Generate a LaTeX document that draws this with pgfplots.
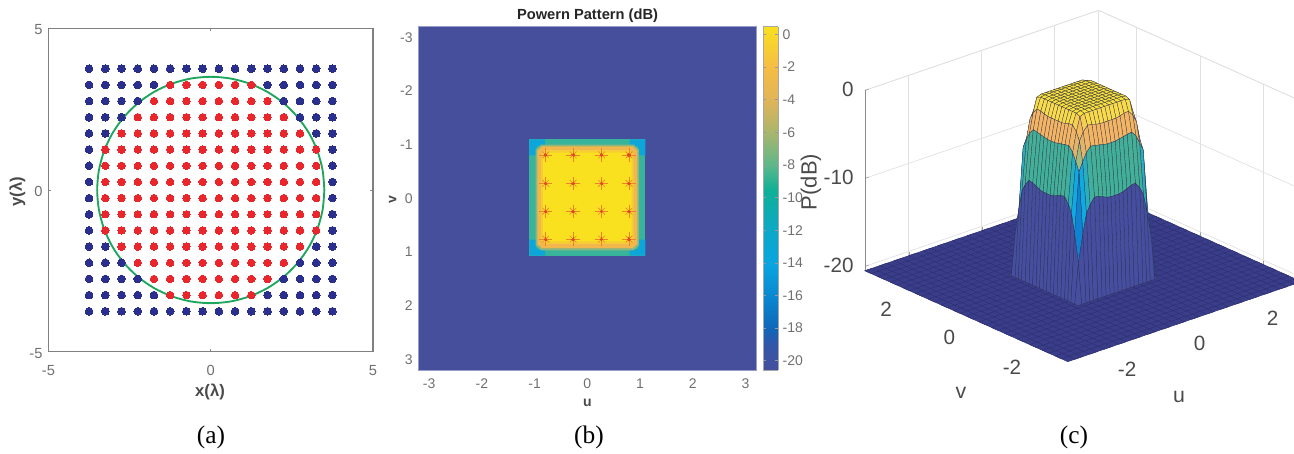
\documentclass[border=0pt]{standalone}
\usepackage{pgfplots}
\pgfplotsset{compat=1.18}
\usepackage{fontspec}
\setmainfont{Liberation Sans}
\newfontfamily\capfont{Liberation Serif}
\definecolor{tickg}{HTML}{707070}
\definecolor{labg}{HTML}{4A4A4A}
\definecolor{bluept}{HTML}{2A2E8C}
\definecolor{redpt}{HTML}{E8262C}
\definecolor{greenc}{HTML}{1FA65E}
\definecolor{hbg}{HTML}{464F9C}
\definecolor{hteal}{HTML}{38B49B}
\definecolor{hcyan}{HTML}{0CA6D8}
\definecolor{holive}{HTML}{8DB67E}
\definecolor{horange}{HTML}{F1B64C}
\definecolor{hmid}{HTML}{F6CD35}
\definecolor{hyellow}{HTML}{F9E11F}
\definecolor{star}{HTML}{EE8228}
\definecolor{starc}{HTML}{E04A20}
\definecolor{floorc}{HTML}{3A3D88}
\definecolor{floorl}{HTML}{2E3076}
\definecolor{facet}{HTML}{303050}
\pgfplotsset{
 colormap={cb}{rgb255(0pt)=(69,79,157); rgb255(1.5pt)=(52,86,168); rgb255(2.5pt)=(17,102,184); rgb255(4.5pt)=(10,136,208); rgb255(6.5pt)=(9,165,224); rgb255(8.5pt)=(12,168,200); rgb255(11pt)=(14,176,150); rgb255(12.5pt)=(92,183,138); rgb255(14.5pt)=(169,182,109); rgb255(16.5pt)=(224,180,88); rgb255(18.5pt)=(246,189,69); rgb255(21pt)=(249,224,31)},
 colormap={cc}{rgb255(0pt)=(70,78,160); rgb255(3pt)=(40,100,190); rgb255(4.5pt)=(15,130,210); rgb255(7.6pt)=(15,170,225); rgb255(9.8pt)=(40,175,190); rgb255(10.8pt)=(64,176,152); rgb255(12.5pt)=(75,178,150); rgb255(14.5pt)=(165,185,125); rgb255(15.5pt)=(225,180,105); rgb255(16.6pt)=(243,180,100); rgb255(18pt)=(245,185,90); rgb255(18.9pt)=(248,218,75); rgb255(20.5pt)=(249,226,55); rgb255(21pt)=(249,226,55)},
}
\begin{document}
\begin{tikzpicture}
\path[use as bounding box] (0,0) rectangle (970.5pt,339.75pt);

% (a)
\begin{axis}[at={(36.375pt,75.975pt)},anchor=south west,scale only axis,width=243.4pt,height=242.55pt,
 xmin=-5,xmax=5,ymin=-5,ymax=5,xtick={-5,0,5},ytick={-5,0,5},xticklabels={-5,0,5},yticklabels={-5,0,5},
 axis line style={draw=black!50,line width=0.8pt},tick style={draw=black!45,line width=0.4pt},tick align=inside,major tick length=2pt,
 ticklabel style={text=tickg,font=\fontsize{11}{11}\selectfont},
 xticklabel style={yshift=-6.5pt},yticklabel style={xshift=-1pt,yshift=-1pt},
 clip=false]
\addplot[only marks,color=bluept,mark=*,mark size=2.9pt,mark options={draw=bluept,fill=bluept,line width=0pt}] coordinates {
(-3.75,3.75)(-3.25,3.75)(-2.75,3.75)(-2.25,3.75)(-1.75,3.75)(-1.25,3.75)(-0.75,3.75)(-0.25,3.75)(0.25,3.75)(0.75,3.75)(1.25,3.75)(1.75,3.75)(2.25,3.75)(2.75,3.75)(3.25,3.75)(3.75,3.75)
(-3.75,3.25)(-3.25,3.25)(-2.75,3.25)(-2.25,3.25)(-1.75,3.25)(1.75,3.25)(2.25,3.25)(2.75,3.25)(3.25,3.25)(3.75,3.25)
(-3.75,2.75)(-3.25,2.75)(-2.75,2.75)(-2.25,2.75)(2.25,2.75)(2.75,2.75)(3.25,2.75)(3.75,2.75)
(-3.75,2.25)(-3.25,2.25)(-2.75,2.25)(2.75,2.25)(3.25,2.25)(3.75,2.25)
(-3.75,1.75)(-3.25,1.75)(3.25,1.75)(3.75,1.75)
(-3.75,1.25)(3.75,1.25)(-3.75,0.75)(3.75,0.75)(-3.75,0.25)(3.75,0.25)(-3.75,-0.25)(3.75,-0.25)(-3.75,-0.75)(3.75,-0.75)(-3.75,-1.25)(3.75,-1.25)
(-3.75,-1.75)(-3.25,-1.75)(3.25,-1.75)(3.75,-1.75)
(-3.75,-2.25)(-3.25,-2.25)(-2.75,-2.25)(2.75,-2.25)(3.25,-2.25)(3.75,-2.25)
(-3.75,-2.75)(-3.25,-2.75)(-2.75,-2.75)(-2.25,-2.75)(2.25,-2.75)(2.75,-2.75)(3.25,-2.75)(3.75,-2.75)
(-3.75,-3.25)(-3.25,-3.25)(-2.75,-3.25)(-2.25,-3.25)(-1.75,-3.25)(1.75,-3.25)(2.25,-3.25)(2.75,-3.25)(3.25,-3.25)(3.75,-3.25)
(-3.75,-3.75)(-3.25,-3.75)(-2.75,-3.75)(-2.25,-3.75)(-1.75,-3.75)(-1.25,-3.75)(-0.75,-3.75)(-0.25,-3.75)(0.25,-3.75)(0.75,-3.75)(1.25,-3.75)(1.75,-3.75)(2.25,-3.75)(2.75,-3.75)(3.25,-3.75)(3.75,-3.75)
};
\addplot[only marks,color=redpt,mark=*,mark size=2.8pt,mark options={draw=redpt,fill=redpt,line width=0pt}] coordinates {
(-1.25,3.25)(-0.75,3.25)(-0.25,3.25)(0.25,3.25)(0.75,3.25)(1.25,3.25)
(-1.75,2.75)(-1.25,2.75)(-0.75,2.75)(-0.25,2.75)(0.25,2.75)(0.75,2.75)(1.25,2.75)(1.75,2.75)
(-2.25,2.25)(-1.75,2.25)(-1.25,2.25)(-0.75,2.25)(-0.25,2.25)(0.25,2.25)(0.75,2.25)(1.25,2.25)(1.75,2.25)(2.25,2.25)
(-2.75,1.75)(-2.25,1.75)(-1.75,1.75)(-1.25,1.75)(-0.75,1.75)(-0.25,1.75)(0.25,1.75)(0.75,1.75)(1.25,1.75)(1.75,1.75)(2.25,1.75)(2.75,1.75)
(-3.25,1.25)(-2.75,1.25)(-2.25,1.25)(-1.75,1.25)(-1.25,1.25)(-0.75,1.25)(-0.25,1.25)(0.25,1.25)(0.75,1.25)(1.25,1.25)(1.75,1.25)(2.25,1.25)(2.75,1.25)(3.25,1.25)
(-3.25,0.75)(-2.75,0.75)(-2.25,0.75)(-1.75,0.75)(-1.25,0.75)(-0.75,0.75)(-0.25,0.75)(0.25,0.75)(0.75,0.75)(1.25,0.75)(1.75,0.75)(2.25,0.75)(2.75,0.75)(3.25,0.75)
(-3.25,0.25)(-2.75,0.25)(-2.25,0.25)(-1.75,0.25)(-1.25,0.25)(-0.75,0.25)(-0.25,0.25)(0.25,0.25)(0.75,0.25)(1.25,0.25)(1.75,0.25)(2.25,0.25)(2.75,0.25)(3.25,0.25)
(-3.25,-0.25)(-2.75,-0.25)(-2.25,-0.25)(-1.75,-0.25)(-1.25,-0.25)(-0.75,-0.25)(-0.25,-0.25)(0.25,-0.25)(0.75,-0.25)(1.25,-0.25)(1.75,-0.25)(2.25,-0.25)(2.75,-0.25)(3.25,-0.25)
(-3.25,-0.75)(-2.75,-0.75)(-2.25,-0.75)(-1.75,-0.75)(-1.25,-0.75)(-0.75,-0.75)(-0.25,-0.75)(0.25,-0.75)(0.75,-0.75)(1.25,-0.75)(1.75,-0.75)(2.25,-0.75)(2.75,-0.75)(3.25,-0.75)
(-3.25,-1.25)(-2.75,-1.25)(-2.25,-1.25)(-1.75,-1.25)(-1.25,-1.25)(-0.75,-1.25)(-0.25,-1.25)(0.25,-1.25)(0.75,-1.25)(1.25,-1.25)(1.75,-1.25)(2.25,-1.25)(2.75,-1.25)(3.25,-1.25)
(-2.75,-1.75)(-2.25,-1.75)(-1.75,-1.75)(-1.25,-1.75)(-0.75,-1.75)(-0.25,-1.75)(0.25,-1.75)(0.75,-1.75)(1.25,-1.75)(1.75,-1.75)(2.25,-1.75)(2.75,-1.75)
(-2.25,-2.25)(-1.75,-2.25)(-1.25,-2.25)(-0.75,-2.25)(-0.25,-2.25)(0.25,-2.25)(0.75,-2.25)(1.25,-2.25)(1.75,-2.25)(2.25,-2.25)
(-1.75,-2.75)(-1.25,-2.75)(-0.75,-2.75)(-0.25,-2.75)(0.25,-2.75)(0.75,-2.75)(1.25,-2.75)(1.75,-2.75)
(-1.25,-3.25)(-0.75,-3.25)(-0.25,-3.25)(0.25,-3.25)(0.75,-3.25)(1.25,-3.25)
};
\addplot[smooth,no marks,color=greenc,line width=1.4pt] coordinates {
(3.5,0)(3.447,0.608)(3.289,1.197)(3.031,1.75)(2.681,2.25)(2.25,2.681)(1.75,3.031)(1.197,3.289)(0.608,3.447)(0,3.5)
(-0.608,3.447)(-1.197,3.289)(-1.75,3.031)(-2.25,2.681)(-2.681,2.25)(-3.031,1.75)(-3.289,1.197)(-3.447,0.608)(-3.5,0)
(-3.447,-0.608)(-3.289,-1.197)(-3.031,-1.75)(-2.681,-2.25)(-2.25,-2.681)(-1.75,-3.031)(-1.197,-3.289)(-0.608,-3.447)(0,-3.5)
(0.608,-3.447)(1.197,-3.289)(1.75,-3.031)(2.25,-2.681)(2.681,-2.25)(3.031,-1.75)(3.289,-1.197)(3.447,-0.608)(3.5,0)
};
\end{axis}

% (b)
\begin{axis}[at={(314pt,62.25pt)},anchor=south west,scale only axis,width=253pt,height=257.5pt,
 xmin=-3.2,xmax=3.2,ymin=-3.2,ymax=3.2,y dir=reverse,
 xtick={-3,-2,-1,0,1,2,3},ytick={-3,-2,-1,0,1,2,3},
 xticklabels={-3,-2,-1,0,1,2,3},yticklabels={-3,-2,-1,0,1,2,3},
 axis line style={draw=hbg!55!white,line width=0.6pt},major tick length=0pt,
 ticklabel style={text=tickg,font=\fontsize{10.5}{10.5}\selectfont},
 xticklabel style={yshift=-3pt},yticklabel style={xshift=-1pt},
 axis on top]
\addplot[fill=hbg,draw=none] coordinates {(-3.2,-3.2)(3.2,-3.2)(3.2,3.2)(-3.2,3.2)} --cycle;
\addplot[fill=hteal,draw=none] coordinates {(-1.1,-1.1)(1.1,-1.1)(1.1,1.07)(-1.1,1.07)} --cycle;
\addplot[fill=hcyan,draw=none] coordinates {(-1.1,-1.1)(-0.8,-1.1)(-0.8,-0.97)(-0.96,-0.97)(-0.96,-0.8)(-1.1,-0.8)} --cycle;
\addplot[fill=hcyan,draw=none] coordinates {(1.1,-1.1)(0.8,-1.1)(0.8,-0.97)(0.96,-0.97)(0.96,-0.8)(1.1,-0.8)} --cycle;
\addplot[fill=hcyan,draw=none] coordinates {(-1.1,1.07)(-0.8,1.07)(-0.8,0.94)(-0.96,0.94)(-0.96,0.77)(-1.1,0.77)} --cycle;
\addplot[fill=hcyan,draw=none] coordinates {(1.1,1.07)(0.8,1.07)(0.8,0.94)(0.96,0.94)(0.96,0.77)(1.1,0.77)} --cycle;
\addplot[fill=holive,draw=none] coordinates {(-0.88,-1.0)(0.88,-1.0)(0.98,-0.91)(0.98,0.88)(0.88,0.97)(-0.88,0.97)(-0.98,0.88)(-0.98,-0.91)} --cycle;
\addplot[fill=horange,draw=none] coordinates {(-0.86,-0.97)(0.86,-0.97)(0.95,-0.88)(0.95,0.85)(0.86,0.93)(-0.86,0.93)(-0.95,0.85)(-0.95,-0.88)} --cycle;
\addplot[fill=hmid,draw=none] coordinates {(-0.8,-0.9)(0.8,-0.9)(0.88,-0.82)(0.88,0.78)(0.8,0.85)(-0.8,0.85)(-0.88,0.78)(-0.88,-0.82)} --cycle;
\addplot[fill=hyellow,draw=none] coordinates {(-0.78,-0.85)(0.78,-0.85)(0.84,-0.79)(0.84,0.75)(0.78,0.8)(-0.78,0.8)(-0.84,0.75)(-0.84,-0.79)} --cycle;
\addplot[only marks,color=star,mark=+,mark size=5pt,mark options={draw=star,line width=0.45pt}] coordinates {
(-0.79,-0.81)(-0.27,-0.81)(0.27,-0.81)(0.79,-0.81)(-0.79,-0.28)(-0.27,-0.28)(0.27,-0.28)(0.79,-0.28)(-0.79,0.24)(-0.27,0.24)(0.27,0.24)(0.79,0.24)(-0.79,0.76)(-0.27,0.76)(0.27,0.76)(0.79,0.76)};
\addplot[only marks,color=star,mark=x,mark size=3.6pt,mark options={draw=star,line width=0.45pt}] coordinates {
(-0.79,-0.81)(-0.27,-0.81)(0.27,-0.81)(0.79,-0.81)(-0.79,-0.28)(-0.27,-0.28)(0.27,-0.28)(0.79,-0.28)(-0.79,0.24)(-0.27,0.24)(0.27,0.24)(0.79,0.24)(-0.79,0.76)(-0.27,0.76)(0.27,0.76)(0.79,0.76)};
\addplot[only marks,color=starc,mark=*,mark size=0.9pt,mark options={draw=starc,fill=starc,line width=0pt}] coordinates {
(-0.79,-0.81)(-0.27,-0.81)(0.27,-0.81)(0.79,-0.81)(-0.79,-0.28)(-0.27,-0.28)(0.27,-0.28)(0.79,-0.28)(-0.79,0.24)(-0.27,0.24)(0.27,0.24)(0.79,0.24)(-0.79,0.76)(-0.27,0.76)(0.27,0.76)(0.79,0.76)};
\end{axis}

% colour bar
\begin{axis}[at={(572.5pt,62.25pt)},anchor=south west,scale only axis,width=11pt,height=257.5pt,
 xmin=0,xmax=1,ymin=-20.57,ymax=0.47,xtick=\empty,
 ytick={-20,-18,-16,-14,-12,-10,-8,-6,-4,-2,0},
 yticklabels={-20,-18,-16,-14,-12,-10,-8,-6,-4,-2,0},
 yticklabel pos=right,yticklabel style={anchor=west,xshift=0pt},
 ticklabel style={text=tickg,font=\fontsize{10.5}{10.5}\selectfont},
 axis line style={draw=black!35,line width=0.4pt},major tick length=2pt,tick style={draw=black!40,line width=0.3pt},
 view={0}{90},colormap name=cb,point meta min=-20.5,point meta max=0.5,axis on top]
\addplot3[surf,shader=interp,point meta=y,mesh/rows=2] coordinates {(0,-20.57,0)(1,-20.57,0)

(0,0.47,0)(1,0.47,0)};
\end{axis}

% (c)
\begin{axis}[at={(812.4pt,267.9pt)},anchor=origin,
 x={(27.375pt,9.375pt)},y={(-23.775pt,10.65pt)},z={(0pt,6.6pt)},
 xmin=-3.2,xmax=3.2,ymin=-3.2,ymax=3.2,zmin=-20.5,zmax=0,
 xtick={-2,0,2},ytick={-2,0,2},ztick={-20,-10,0},
 xticklabels={-2,0,2},yticklabels={-2,0,2},zticklabels={-20,-10,0},
 grid=major,major grid style={draw=black!12,line width=0.5pt},
 axis line style={draw=black!12,line width=0.5pt},
 tickpos=left,
 tick style={draw=black!40,line width=0.4pt},major tick length=3pt,
 ticklabel style={text=labg,font=\fontsize{15.5}{15.5}\selectfont},
 xticklabel style={xshift=5pt,yshift=-6.5pt},yticklabel style={xshift=-6pt,yshift=-6.5pt},zticklabel style={xshift=-5pt},
 colormap name=cc,point meta min=-20.5,point meta max=0.5,clip=false]
\addplot3[no marks,color=black!45,line width=0.7pt] coordinates {(-3.2,3.2,-20.5)(-3.2,3.2,0)};
\addplot3[fill=floorc,draw=none] coordinates {(-3.2,-3.2,-20.5)(3.2,-3.2,-20.5)(3.2,3.2,-20.5)(-3.2,3.2,-20.5)} --cycle;
\addplot3[no marks,color=floorl,line width=0.35pt] coordinates {
(-3.2,-3.2,-20.5)(3.2,-3.2,-20.5)(3.2,-3,-20.5)(-3.2,-3,-20.5)(-3.2,-2.8,-20.5)(3.2,-2.8,-20.5)(3.2,-2.6,-20.5)(-3.2,-2.6,-20.5)(-3.2,-2.4,-20.5)(3.2,-2.4,-20.5)(3.2,-2.2,-20.5)(-3.2,-2.2,-20.5)(-3.2,-2,-20.5)(3.2,-2,-20.5)(3.2,-1.8,-20.5)(-3.2,-1.8,-20.5)(-3.2,-1.6,-20.5)(3.2,-1.6,-20.5)(3.2,-1.4,-20.5)(-3.2,-1.4,-20.5)(-3.2,-1.2,-20.5)(3.2,-1.2,-20.5)(3.2,-1,-20.5)(-3.2,-1,-20.5)(-3.2,-0.8,-20.5)(3.2,-0.8,-20.5)(3.2,-0.6,-20.5)(-3.2,-0.6,-20.5)(-3.2,-0.4,-20.5)(3.2,-0.4,-20.5)(3.2,-0.2,-20.5)(-3.2,-0.2,-20.5)(-3.2,0,-20.5)(3.2,0,-20.5)(3.2,0.2,-20.5)(-3.2,0.2,-20.5)(-3.2,0.4,-20.5)(3.2,0.4,-20.5)(3.2,0.6,-20.5)(-3.2,0.6,-20.5)(-3.2,0.8,-20.5)(3.2,0.8,-20.5)(3.2,1,-20.5)(-3.2,1,-20.5)(-3.2,1.2,-20.5)(3.2,1.2,-20.5)(3.2,1.4,-20.5)(-3.2,1.4,-20.5)(-3.2,1.6,-20.5)(3.2,1.6,-20.5)(3.2,1.8,-20.5)(-3.2,1.8,-20.5)(-3.2,2,-20.5)(3.2,2,-20.5)(3.2,2.2,-20.5)(-3.2,2.2,-20.5)(-3.2,2.4,-20.5)(3.2,2.4,-20.5)(3.2,2.6,-20.5)(-3.2,2.6,-20.5)(-3.2,2.8,-20.5)(3.2,2.8,-20.5)(3.2,3,-20.5)(-3.2,3,-20.5)(-3.2,3.2,-20.5)(3.2,3.2,-20.5)};
\addplot3[no marks,color=floorl,line width=0.35pt] coordinates {
(-3.2,-3.2,-20.5)(-3.2,3.2,-20.5)(-3,3.2,-20.5)(-3,-3.2,-20.5)(-2.8,-3.2,-20.5)(-2.8,3.2,-20.5)(-2.6,3.2,-20.5)(-2.6,-3.2,-20.5)(-2.4,-3.2,-20.5)(-2.4,3.2,-20.5)(-2.2,3.2,-20.5)(-2.2,-3.2,-20.5)(-2,-3.2,-20.5)(-2,3.2,-20.5)(-1.8,3.2,-20.5)(-1.8,-3.2,-20.5)(-1.6,-3.2,-20.5)(-1.6,3.2,-20.5)(-1.4,3.2,-20.5)(-1.4,-3.2,-20.5)(-1.2,-3.2,-20.5)(-1.2,3.2,-20.5)(-1,3.2,-20.5)(-1,-3.2,-20.5)(-0.8,-3.2,-20.5)(-0.8,3.2,-20.5)(-0.6,3.2,-20.5)(-0.6,-3.2,-20.5)(-0.4,-3.2,-20.5)(-0.4,3.2,-20.5)(-0.2,3.2,-20.5)(-0.2,-3.2,-20.5)(0,-3.2,-20.5)(0,3.2,-20.5)(0.2,3.2,-20.5)(0.2,-3.2,-20.5)(0.4,-3.2,-20.5)(0.4,3.2,-20.5)(0.6,3.2,-20.5)(0.6,-3.2,-20.5)(0.8,-3.2,-20.5)(0.8,3.2,-20.5)(1,3.2,-20.5)(1,-3.2,-20.5)(1.2,-3.2,-20.5)(1.2,3.2,-20.5)(1.4,3.2,-20.5)(1.4,-3.2,-20.5)(1.6,-3.2,-20.5)(1.6,3.2,-20.5)(1.8,3.2,-20.5)(1.8,-3.2,-20.5)(2,-3.2,-20.5)(2,3.2,-20.5)(2.2,3.2,-20.5)(2.2,-3.2,-20.5)(2.4,-3.2,-20.5)(2.4,3.2,-20.5)(2.6,3.2,-20.5)(2.6,-3.2,-20.5)(2.8,-3.2,-20.5)(2.8,3.2,-20.5)(3,3.2,-20.5)(3,-3.2,-20.5)(3.2,-3.2,-20.5)(3.2,3.2,-20.5)};
\addplot3[surf,shader=flat corner,draw=facet,line width=0.2pt,mesh/rows=21,z buffer=reverse xy seq,point meta=z] coordinates {
(-1.1,-1.1,-20.5)(-1,-1.1,-20.5)(-.88,-1.1,-20.5)(-.78,-1.1,-20.5)(-.68,-1.1,-20.5)(-.56,-1.1,-20.5)(-.44,-1.1,-20.5)(-.33,-1.1,-20.5)(-.22,-1.1,-20.5)(-.11,-1.1,-20.5)(0,-1.1,-20.5)(.11,-1.1,-20.5)(.22,-1.1,-20.5)(.33,-1.1,-20.5)(.44,-1.1,-20.5)(.56,-1.1,-20.5)(.68,-1.1,-20.5)(.78,-1.1,-20.5)(.88,-1.1,-20.5)(1,-1.1,-20.5)(1.1,-1.1,-20.5)
(-1.1,-1,-20.5)(-1,-1,-16)(-.88,-1,-12.9)(-.78,-1,-10.7)(-.68,-1,-9.8)(-.56,-1,-9.1)(-.44,-1,-9.2)(-.33,-1,-9.4)(-.22,-1,-9.6)(-.11,-1,-9.7)(0,-1,-9.7)(.11,-1,-9.7)(.22,-1,-9.6)(.33,-1,-9.4)(.44,-1,-9.2)(.56,-1,-9.1)(.68,-1,-9.8)(.78,-1,-10.7)(.88,-1,-12.9)(1,-1,-16)(1.1,-1,-20.5)
(-1.1,-.88,-20.5)(-1,-.88,-12.9)(-.88,-.88,-6)(-.78,-.88,-5)(-.68,-.88,-4.1)(-.56,-.88,-3.5)(-.44,-.88,-3.6)(-.33,-.88,-3.7)(-.22,-.88,-3.8)(-.11,-.88,-3.9)(0,-.88,-3.9)(.11,-.88,-3.9)(.22,-.88,-3.8)(.33,-.88,-3.7)(.44,-.88,-3.6)(.56,-.88,-3.5)(.68,-.88,-4.1)(.78,-.88,-5)(.88,-.88,-6)(1,-.88,-12.9)(1.1,-.88,-20.5)
(-1.1,-.78,-20.5)(-1,-.78,-10.7)(-.88,-.78,-5)(-.78,-.78,-2.8)(-.68,-.78,-1.9)(-.56,-.78,-1.3)(-.44,-.78,-1.35)(-.33,-.78,-1.5)(-.22,-.78,-1.6)(-.11,-.78,-1.6)(0,-.78,-1.6)(.11,-.78,-1.6)(.22,-.78,-1.6)(.33,-.78,-1.5)(.44,-.78,-1.35)(.56,-.78,-1.3)(.68,-.78,-1.9)(.78,-.78,-2.8)(.88,-.78,-5)(1,-.78,-10.7)(1.1,-.78,-20.5)
(-1.1,-.68,-20.5)(-1,-.68,-9.8)(-.88,-.68,-4.1)(-.78,-.68,-1.9)(-.68,-.68,-.3)(-.56,-.68,-.1)(-.44,-.68,-.1)(-.33,-.68,-.1)(-.22,-.68,-.1)(-.11,-.68,-.1)(0,-.68,-.1)(.11,-.68,-.1)(.22,-.68,-.1)(.33,-.68,-.1)(.44,-.68,-.1)(.56,-.68,-.1)(.68,-.68,-.3)(.78,-.68,-1.9)(.88,-.68,-4.1)(1,-.68,-9.8)(1.1,-.68,-20.5)
(-1.1,-.56,-20.5)(-1,-.56,-9.1)(-.88,-.56,-3.5)(-.78,-.56,-1.3)(-.68,-.56,-.1)(-.56,-.56,0)(-.44,-.56,0)(-.33,-.56,0)(-.22,-.56,0)(-.11,-.56,0)(0,-.56,0)(.11,-.56,0)(.22,-.56,0)(.33,-.56,0)(.44,-.56,0)(.56,-.56,0)(.68,-.56,-.1)(.78,-.56,-1.3)(.88,-.56,-3.5)(1,-.56,-9.1)(1.1,-.56,-20.5)
(-1.1,-.44,-20.5)(-1,-.44,-9.2)(-.88,-.44,-3.6)(-.78,-.44,-1.35)(-.68,-.44,-.1)(-.56,-.44,0)(-.44,-.44,0)(-.33,-.44,0)(-.22,-.44,0)(-.11,-.44,0)(0,-.44,0)(.11,-.44,0)(.22,-.44,0)(.33,-.44,0)(.44,-.44,0)(.56,-.44,0)(.68,-.44,-.1)(.78,-.44,-1.35)(.88,-.44,-3.6)(1,-.44,-9.2)(1.1,-.44,-20.5)
(-1.1,-.33,-20.5)(-1,-.33,-9.4)(-.88,-.33,-3.7)(-.78,-.33,-1.5)(-.68,-.33,-.1)(-.56,-.33,0)(-.44,-.33,0)(-.33,-.33,0)(-.22,-.33,0)(-.11,-.33,0)(0,-.33,0)(.11,-.33,0)(.22,-.33,0)(.33,-.33,0)(.44,-.33,0)(.56,-.33,0)(.68,-.33,-.1)(.78,-.33,-1.5)(.88,-.33,-3.7)(1,-.33,-9.4)(1.1,-.33,-20.5)
(-1.1,-.22,-20.5)(-1,-.22,-9.6)(-.88,-.22,-3.8)(-.78,-.22,-1.6)(-.68,-.22,-.1)(-.56,-.22,0)(-.44,-.22,0)(-.33,-.22,0)(-.22,-.22,0)(-.11,-.22,0)(0,-.22,0)(.11,-.22,0)(.22,-.22,0)(.33,-.22,0)(.44,-.22,0)(.56,-.22,0)(.68,-.22,-.1)(.78,-.22,-1.6)(.88,-.22,-3.8)(1,-.22,-9.6)(1.1,-.22,-20.5)
(-1.1,-.11,-20.5)(-1,-.11,-9.7)(-.88,-.11,-3.9)(-.78,-.11,-1.6)(-.68,-.11,-.1)(-.56,-.11,0)(-.44,-.11,0)(-.33,-.11,0)(-.22,-.11,0)(-.11,-.11,0)(0,-.11,0)(.11,-.11,0)(.22,-.11,0)(.33,-.11,0)(.44,-.11,0)(.56,-.11,0)(.68,-.11,-.1)(.78,-.11,-1.6)(.88,-.11,-3.9)(1,-.11,-9.7)(1.1,-.11,-20.5)
(-1.1,0,-20.5)(-1,0,-9.7)(-.88,0,-3.9)(-.78,0,-1.6)(-.68,0,-.1)(-.56,0,0)(-.44,0,0)(-.33,0,0)(-.22,0,0)(-.11,0,0)(0,0,0)(.11,0,0)(.22,0,0)(.33,0,0)(.44,0,0)(.56,0,0)(.68,0,-.1)(.78,0,-1.6)(.88,0,-3.9)(1,0,-9.7)(1.1,0,-20.5)
(-1.1,.11,-20.5)(-1,.11,-9.7)(-.88,.11,-3.9)(-.78,.11,-1.6)(-.68,.11,-.1)(-.56,.11,0)(-.44,.11,0)(-.33,.11,0)(-.22,.11,0)(-.11,.11,0)(0,.11,0)(.11,.11,0)(.22,.11,0)(.33,.11,0)(.44,.11,0)(.56,.11,0)(.68,.11,-.1)(.78,.11,-1.6)(.88,.11,-3.9)(1,.11,-9.7)(1.1,.11,-20.5)
(-1.1,.22,-20.5)(-1,.22,-9.6)(-.88,.22,-3.8)(-.78,.22,-1.6)(-.68,.22,-.1)(-.56,.22,0)(-.44,.22,0)(-.33,.22,0)(-.22,.22,0)(-.11,.22,0)(0,.22,0)(.11,.22,0)(.22,.22,0)(.33,.22,0)(.44,.22,0)(.56,.22,0)(.68,.22,-.1)(.78,.22,-1.6)(.88,.22,-3.8)(1,.22,-9.6)(1.1,.22,-20.5)
(-1.1,.33,-20.5)(-1,.33,-9.4)(-.88,.33,-3.7)(-.78,.33,-1.5)(-.68,.33,-.1)(-.56,.33,0)(-.44,.33,0)(-.33,.33,0)(-.22,.33,0)(-.11,.33,0)(0,.33,0)(.11,.33,0)(.22,.33,0)(.33,.33,0)(.44,.33,0)(.56,.33,0)(.68,.33,-.1)(.78,.33,-1.5)(.88,.33,-3.7)(1,.33,-9.4)(1.1,.33,-20.5)
(-1.1,.44,-20.5)(-1,.44,-9.2)(-.88,.44,-3.6)(-.78,.44,-1.35)(-.68,.44,-.1)(-.56,.44,0)(-.44,.44,0)(-.33,.44,0)(-.22,.44,0)(-.11,.44,0)(0,.44,0)(.11,.44,0)(.22,.44,0)(.33,.44,0)(.44,.44,0)(.56,.44,0)(.68,.44,-.1)(.78,.44,-1.35)(.88,.44,-3.6)(1,.44,-9.2)(1.1,.44,-20.5)
(-1.1,.56,-20.5)(-1,.56,-9.1)(-.88,.56,-3.5)(-.78,.56,-1.3)(-.68,.56,-.1)(-.56,.56,0)(-.44,.56,0)(-.33,.56,0)(-.22,.56,0)(-.11,.56,0)(0,.56,0)(.11,.56,0)(.22,.56,0)(.33,.56,0)(.44,.56,0)(.56,.56,0)(.68,.56,-.1)(.78,.56,-1.3)(.88,.56,-3.5)(1,.56,-9.1)(1.1,.56,-20.5)
(-1.1,.68,-20.5)(-1,.68,-9.8)(-.88,.68,-4.1)(-.78,.68,-1.9)(-.68,.68,-.3)(-.56,.68,-.1)(-.44,.68,-.1)(-.33,.68,-.1)(-.22,.68,-.1)(-.11,.68,-.1)(0,.68,-.1)(.11,.68,-.1)(.22,.68,-.1)(.33,.68,-.1)(.44,.68,-.1)(.56,.68,-.1)(.68,.68,-.3)(.78,.68,-1.9)(.88,.68,-4.1)(1,.68,-9.8)(1.1,.68,-20.5)
(-1.1,.78,-20.5)(-1,.78,-10.7)(-.88,.78,-5)(-.78,.78,-2.8)(-.68,.78,-1.9)(-.56,.78,-1.3)(-.44,.78,-1.35)(-.33,.78,-1.5)(-.22,.78,-1.6)(-.11,.78,-1.6)(0,.78,-1.6)(.11,.78,-1.6)(.22,.78,-1.6)(.33,.78,-1.5)(.44,.78,-1.35)(.56,.78,-1.3)(.68,.78,-1.9)(.78,.78,-2.8)(.88,.78,-5)(1,.78,-10.7)(1.1,.78,-20.5)
(-1.1,.88,-20.5)(-1,.88,-12.9)(-.88,.88,-6)(-.78,.88,-5)(-.68,.88,-4.1)(-.56,.88,-3.5)(-.44,.88,-3.6)(-.33,.88,-3.7)(-.22,.88,-3.8)(-.11,.88,-3.9)(0,.88,-3.9)(.11,.88,-3.9)(.22,.88,-3.8)(.33,.88,-3.7)(.44,.88,-3.6)(.56,.88,-3.5)(.68,.88,-4.1)(.78,.88,-5)(.88,.88,-6)(1,.88,-12.9)(1.1,.88,-20.5)
(-1.1,1,-20.5)(-1,1,-16)(-.88,1,-12.9)(-.78,1,-10.7)(-.68,1,-9.8)(-.56,1,-9.1)(-.44,1,-9.2)(-.33,1,-9.4)(-.22,1,-9.6)(-.11,1,-9.7)(0,1,-9.7)(.11,1,-9.7)(.22,1,-9.6)(.33,1,-9.4)(.44,1,-9.2)(.56,1,-9.1)(.68,1,-9.8)(.78,1,-10.7)(.88,1,-12.9)(1,1,-16)(1.1,1,-20.5)
(-1.1,1.1,-20.5)(-1,1.1,-20.5)(-.88,1.1,-20.5)(-.78,1.1,-20.5)(-.68,1.1,-20.5)(-.56,1.1,-20.5)(-.44,1.1,-20.5)(-.33,1.1,-20.5)(-.22,1.1,-20.5)(-.11,1.1,-20.5)(0,1.1,-20.5)(.11,1.1,-20.5)(.22,1.1,-20.5)(.33,1.1,-20.5)(.44,1.1,-20.5)(.56,1.1,-20.5)(.68,1.1,-20.5)(.78,1.1,-20.5)(.88,1.1,-20.5)(1,1.1,-20.5)(1.1,1.1,-20.5)
};
\end{axis}

\begin{scope}[x=0.75pt,y=-0.75pt,yshift=339.75pt]
\node[text=labg,font=\bfseries\fontsize{12.5}{12.5}\selectfont] at (210,391.7) {x(λ)};
\node[text=labg,rotate=90,font=\bfseries\fontsize{12.5}{12.5}\selectfont] at (17.3,191.7) {y(λ)};
\node[text=black!85,font=\bfseries\fontsize{11}{11}\selectfont] at (587.5,16) {Powern Pattern (dB)};
\node[text=labg,font=\bfseries\fontsize{10.5}{10.5}\selectfont] at (587.5,403) {u};
\node[text=labg,rotate=90,font=\bfseries\fontsize{10.5}{10.5}\selectfont] at (392.7,200) {v};
\node[text=labg,rotate=90,font=\fontsize{16.5}{16.5}\selectfont] at (811,182) {P(dB)};
\node[text=labg,font=\fontsize{16}{16}\selectfont] at (961,392.7) {v};
\node[text=labg,font=\fontsize{16}{16}\selectfont] at (1179,396.7) {u};
\node[text=black,font=\capfont\fontsize{19}{19}\selectfont] at (211,437) {(a)};
\node[text=black,font=\capfont\fontsize{19}{19}\selectfont] at (589,437) {(b)};
\node[text=black,font=\capfont\fontsize{19}{19}\selectfont] at (1074,437) {(c)};
\end{scope}
\end{tikzpicture}
\end{document}
